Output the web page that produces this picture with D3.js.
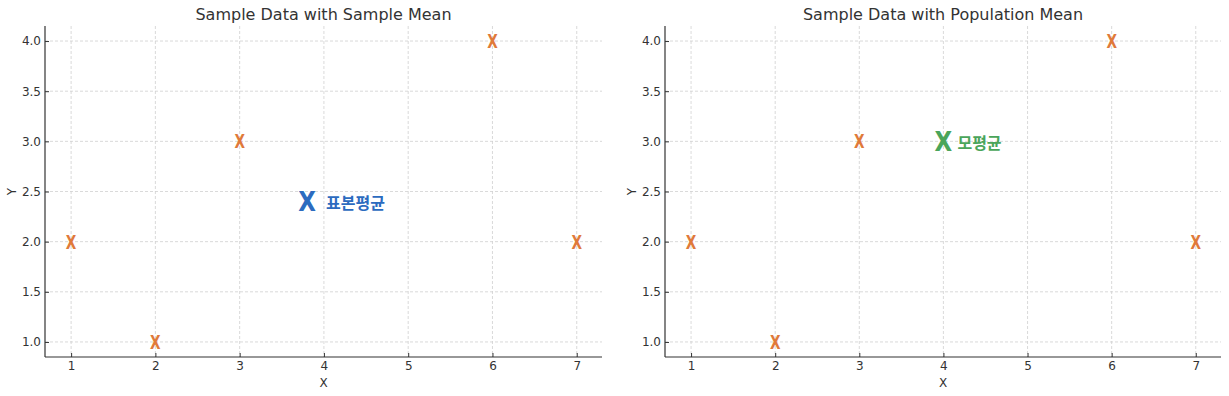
<!DOCTYPE html>
<html>
<head>
<meta charset="utf-8">
<script src="https://cdn.jsdelivr.net/npm/d3@7"></script>
<style>
  body { margin: 0; background: #fff; }
  text { font-family: "DejaVu Sans", sans-serif; }
</style>
</head>
<body>
<div id="chart"></div>
<script>
// sample points
const sampleX = [1, 2, 3, 6, 7];
const sampleY = [2, 1, 3, 4, 2];
const xTicks = [1, 2, 3, 4, 5, 6, 7];
const yTicks = [1.0, 1.5, 2.0, 2.5, 3.0, 3.5, 4.0];
const titles = ["Sample Data with Sample Mean", "Sample Data with Population Mean"];
const meanX = [3.8, 4];
const meanY = [2.4, 3];
const meanLabels = ["표본평균", "모평균"];
const meanColors = ["#2c6bbf", "#4aa55a"];

const svg = d3.select("#chart").append("svg")
  .attr("width", 1229).attr("height", 396);

// panel positions
const panels = [{ left: 45, top: 26, w: 557, h: 331, lab: 19 }, { left: 665, top: 26, w: 556, h: 331, lab: 14 }];

panels.forEach((p, i) => {
  const g = svg.append("g").attr("transform", `translate(${p.left},${p.top})`);
  const x = d3.scaleLinear().domain([0.69, 7.3]).range([0, p.w]);
  const y = d3.scaleLinear().domain([0.85, 4.15]).range([p.h, 0]);

  // grid
  g.append("g").selectAll("line").data(xTicks).join("line")
    .attr("x1", d => x(d)).attr("x2", d => x(d)).attr("y1", 0).attr("y2", p.h)
    .attr("stroke", "#d0d0d0").attr("stroke-width", 0.8).attr("stroke-dasharray", "3,2");
  g.append("g").selectAll("line").data(yTicks).join("line")
    .attr("y1", d => y(d)).attr("y2", d => y(d)).attr("x1", 0).attr("x2", p.w)
    .attr("stroke", "#d0d0d0").attr("stroke-width", 0.8).attr("stroke-dasharray", "3,2");

  // axes
  const xa = g.append("g").attr("transform", `translate(0,${p.h})`)
    .call(d3.axisBottom(x).tickValues(xTicks).tickSize(-4).tickPadding(4).tickFormat(d3.format("d")));
  const ya = g.append("g")
    .call(d3.axisLeft(y).tickValues(yTicks).tickSize(-4).tickPadding(4).tickFormat(d3.format(".1f")));
  [xa, ya].forEach(a => {
    a.select(".domain").attr("stroke", "#333").attr("stroke-width", 1.2);
    a.selectAll(".tick line").attr("stroke", "#333");
    a.selectAll("text").attr("fill", "#333").style("font-size", "12px").style("font-family", "DejaVu Sans, sans-serif");
  });
  // only left and bottom spines
  xa.select(".domain").attr("d", `M0,0H${p.w}`);
  ya.select(".domain").attr("d", `M0,0V${p.h}`);

  // title and axis labels
  g.append("text").attr("x", p.w / 2).attr("y", -6).attr("text-anchor", "middle")
    .attr("fill", "#333").style("font-size", "16px").text(titles[i]);
  g.append("text").attr("x", p.w / 2).attr("y", p.h + 30).attr("text-anchor", "middle")
    .attr("fill", "#333").style("font-size", "12px").text("X");
  g.append("text").attr("transform", `translate(-29,${p.h / 2}) rotate(-90)`).attr("text-anchor", "middle")
    .attr("fill", "#333").style("font-size", "12px").text("Y");

  // sample points drawn as narrow X glyphs
  g.append("g").selectAll("text").data(sampleX).join("text")
    .attr("transform", (d, j) => `translate(${x(d)},${y(sampleY[j])}) scale(0.72,1)`)
    .attr("text-anchor", "middle").attr("dy", "0.36em")
    .attr("fill", "#e07a3a").style("font-size", "19px").style("font-weight", "bold")
    .text("X");

  // mean marker and label
  g.append("text")
    .attr("transform", `translate(${x(meanX[i])},${y(meanY[i])}) scale(0.85,1)`)
    .attr("text-anchor", "middle").attr("dy", "0.36em")
    .attr("fill", meanColors[i]).style("font-size", "27px").style("font-weight", "bold")
    .text("X");
  g.append("text").attr("x", x(meanX[i]) + p.lab).attr("y", y(meanY[i]) + 2)
    .attr("dy", "0.36em").attr("fill", meanColors[i])
    .style("font-size", "16px").style("font-weight", "bold")
    .style("font-family", "'Noto Sans CJK KR', sans-serif")
    .text(meanLabels[i]);
});
</script>
</body>
</html>
